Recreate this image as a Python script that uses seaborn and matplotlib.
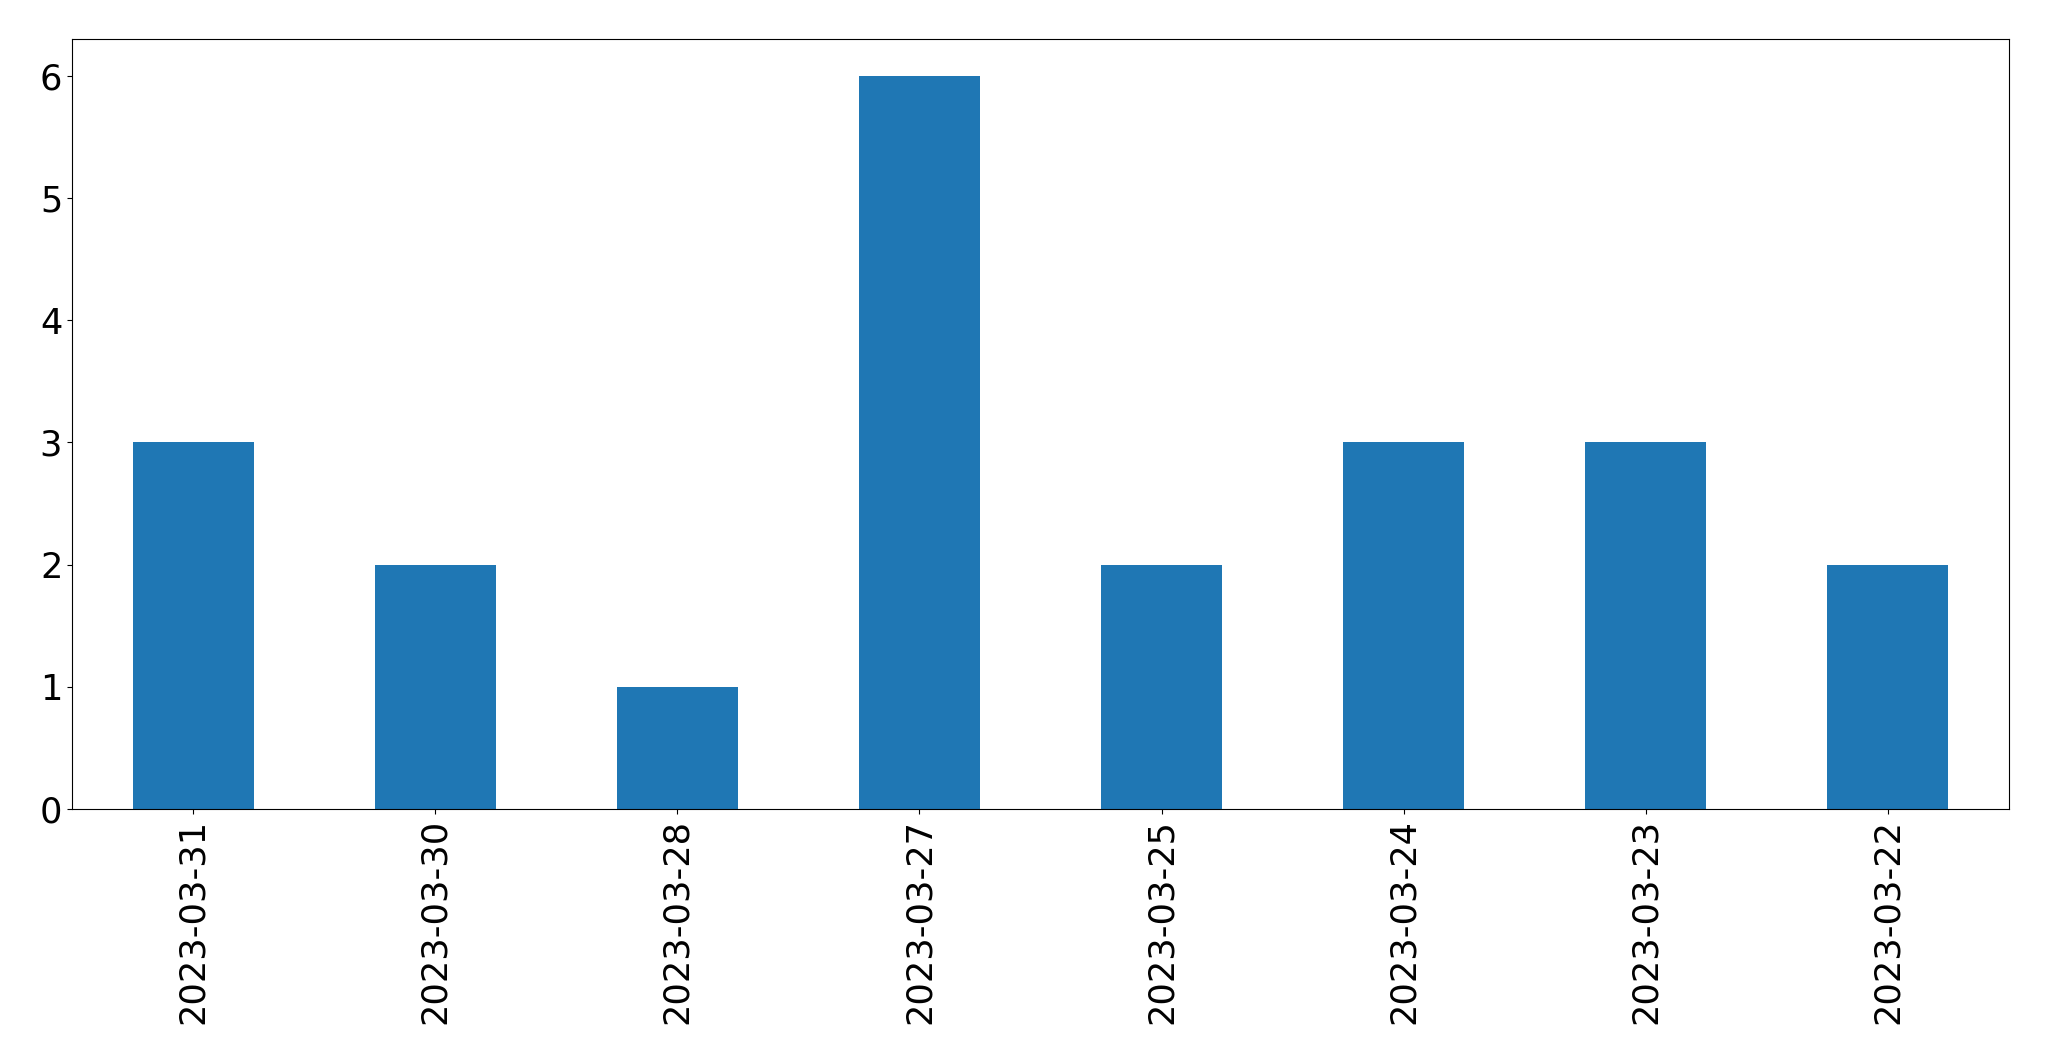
import matplotlib
matplotlib.use("Agg")
import matplotlib.pyplot as plt
import seaborn as sns
import pandas as pd

# daily counts, in the order shown
dates = ["2023-03-31", "2023-03-30", "2023-03-28", "2023-03-27",
         "2023-03-25", "2023-03-24", "2023-03-23", "2023-03-22"]
counts = [3, 2, 1, 6, 2, 3, 3, 2]

df = pd.DataFrame({"date": dates, "count": counts})

fig = plt.figure(figsize=(20.49, 10.61), dpi=100)
ax = fig.add_axes([72 / 2049, 1 - 809 / 1061, (2009 - 72) / 2049, (809 - 39) / 1061])

sns.barplot(data=df, x="date", y="count", order=dates, color="#1f77b4",
            saturation=1, width=0.5, ax=ax)

ax.set_xlim(-0.5, len(dates) - 0.5)
ax.set_ylim(0, max(counts) * 1.05)
ax.set_xlabel("")
ax.set_ylabel("")
ax.tick_params(axis="both", labelsize=25.3)
plt.setp(ax.get_xticklabels(), rotation=90)

fig.savefig("out.png", dpi=100)
